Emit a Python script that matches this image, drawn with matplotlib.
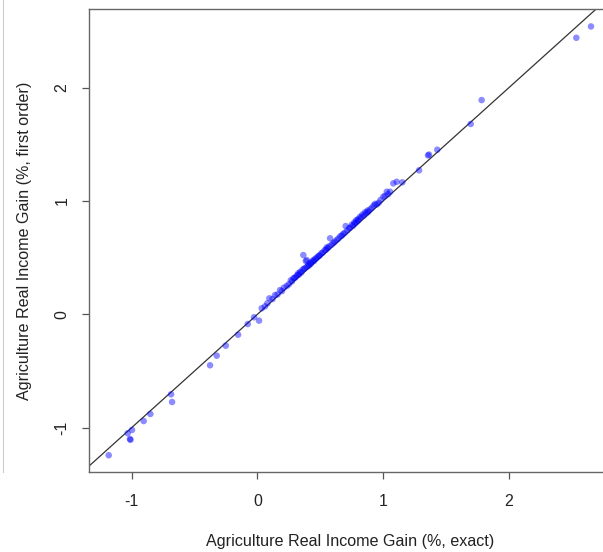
import matplotlib.pyplot as plt
from matplotlib.lines import Line2D

plt.rcParams['font.family'] = ['Liberation Sans', 'DejaVu Sans']
plt.rcParams['axes.unicode_minus'] = False

# exact vs first order agriculture real income gain (%)
exact = [-1.183, -1.032, -0.998, -1.014, -1.010, -0.905, -0.852, -0.687, -0.679,
         -0.377, -0.324, -0.252, -0.154, -0.077, -0.027, 0.013, 0.034, 0.060,
         0.079, 0.095, 0.120, 0.140, 0.160, 0.180, 0.195, 0.210, 0.233, 0.250,
         0.265, 0.275, 0.286, 0.295, 0.305, 0.315, 0.325, 0.330, 0.340, 0.350,
         0.360, 0.365, 0.370, 0.380, 0.385, 0.392, 0.395, 0.405, 0.410, 0.420,
         0.425, 0.435, 0.445, 0.450, 0.460, 0.470, 0.480, 0.490, 0.498, 0.510,
         0.520, 0.535, 0.545, 0.551, 0.560, 0.570, 0.578, 0.590, 0.604, 0.615,
         0.631, 0.645, 0.660, 0.672, 0.683, 0.695, 0.702, 0.715, 0.730, 0.737,
         0.750, 0.760, 0.770, 0.775, 0.785, 0.790, 0.800, 0.805, 0.816, 0.825,
         0.835, 0.845, 0.856, 0.865, 0.875, 0.882, 0.895, 0.910, 0.925, 0.936,
         0.950, 0.965, 0.980, 1.002, 1.015, 1.029, 1.040, 1.055, 1.081, 1.108,
         1.153, 1.286, 1.357, 1.365, 1.431, 1.697, 1.784, 2.537, 2.654]
first_order = [-1.244, -1.050, -1.021, -1.101, -1.108, -0.942, -0.880, -0.706, -0.774,
               -0.450, -0.365, -0.277, -0.180, -0.086, -0.026, -0.056, 0.053, 0.070,
               0.097, 0.141, 0.135, 0.170, 0.175, 0.214, 0.205, 0.235, 0.250, 0.265,
               0.300, 0.290, 0.318, 0.320, 0.330, 0.345, 0.362, 0.350, 0.375, 0.370,
               0.395, 0.523, 0.400, 0.410, 0.470, 0.479, 0.420, 0.440, 0.430, 0.455,
               0.445, 0.465, 0.479, 0.470, 0.490, 0.495, 0.510, 0.515, 0.523, 0.540,
               0.545, 0.565, 0.570, 0.590, 0.585, 0.600, 0.671, 0.615, 0.630, 0.640,
               0.656, 0.670, 0.690, 0.695, 0.710, 0.720, 0.779, 0.740, 0.760, 0.765,
               0.790, 0.780, 0.810, 0.800, 0.830, 0.815, 0.840, 0.830, 0.860, 0.855,
               0.880, 0.870, 0.900, 0.890, 0.915, 0.905, 0.925, 0.940, 0.960, 0.975,
               0.970, 0.985, 1.010, 1.038, 1.045, 1.082, 1.060, 1.082, 1.156, 1.170,
               1.165, 1.271, 1.403, 1.410, 1.453, 1.680, 1.891, 2.441, 2.541]

xticks = [-1, 0, 1, 2]
yticks = [-1, 0, 1, 2]

fig = plt.figure(figsize=(6.03, 5.52), dpi=100)
# plot region runs a little past the right edge of the picture
ax = fig.add_axes([89 / 603, 80 / 552, 522 / 603, 463 / 552])

ax.scatter(exact, first_order, s=22, color='#0000ff', alpha=0.45,
           edgecolors='none', zorder=3)
ax.axline((0, 0), slope=1, color='#333333', lw=0.9, zorder=2)

ax.set_xlim(-1.34, 2.813)
ax.set_ylim(-1.392, 2.695)
ax.set_xticks(xticks)
ax.set_yticks(yticks)
ax.set_yticklabels([str(t) for t in yticks], rotation=90, va='center')

for s in ax.spines.values():
    s.set_color('#666666')
    s.set_linewidth(1.0)
ax.tick_params(direction='out', length=5, width=0.9, colors='#555555',
               labelcolor='#222222', labelsize=11.5)
ax.tick_params(axis='x', pad=11)
ax.tick_params(axis='y', pad=9)

ax.set_xlabel('Agriculture Real Income Gain (%, exact)', fontsize=11.6,
              color='#222222', labelpad=18)
ax.set_ylabel('Agriculture Real Income Gain (%, first order)', fontsize=11.6,
              color='#222222', labelpad=16)

# thin gray border line at the left of the page
fig.add_artist(Line2D([3 / 603, 3 / 603], [80 / 552, 1.0], color='#cccccc', lw=0.8))

fig.savefig('out.png', dpi=100)
